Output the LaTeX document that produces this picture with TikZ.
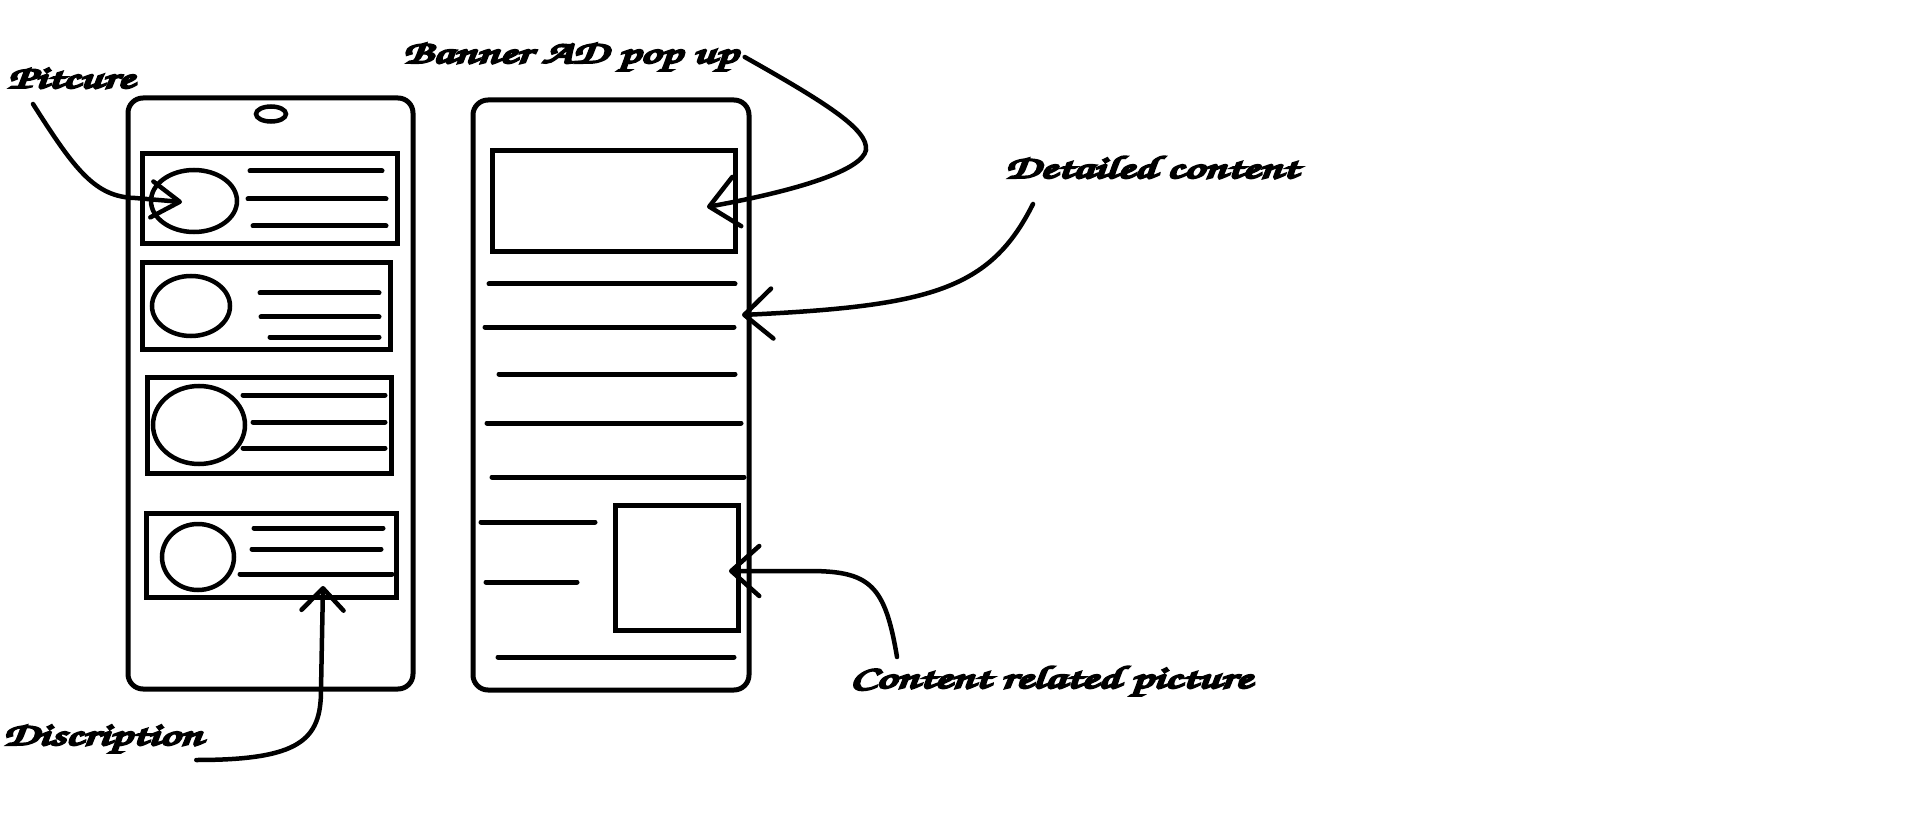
\documentclass[tikz,border=0pt]{standalone}
\usepackage[T1]{fontenc}
\usepackage{graphicx}
\usetikzlibrary{arrows.meta,shapes.geometric,positioning,calc}
\newcommand\handfont{\fontencoding{T1}\fontfamily{pzc}\fontseries{mb}\fontshape{it}\fontsize{32}{34}\selectfont}
\newcommand\inkbold[1]{\special{pdf:literal direct 2 Tr 2 w}#1\special{pdf:literal direct 0 Tr}}
\tikzset{%
  every phone/.style={
    draw,
    line width=5pt,
    rounded corners=15pt,
    inner sep=0pt
  },
  every card/.style={
    draw,
    line width=5pt,
    inner sep=0pt
  },
  every avatar/.style={
    draw,
    ellipse,
    line width=4.5pt,
    inner sep=0pt
  },
  text line/.style={line width=5pt, line cap=round},
  callout/.style={
    line width=4.5pt,
    line cap=round,
    -{Straight Barb[length=28pt,width=50pt,round]}
  },
  hand label/.style={font=\handfont, inner sep=0pt, anchor=base west},
}

\begin{document}
\begin{tikzpicture}[x=1pt, y=-1pt]
        \useasboundingbox (0,0) rectangle (1914,826);

        % the two phones
        \node [every phone, minimum width=285pt, minimum height=591pt] (phone-list) at (270.5,393.5) {};
        \node [every phone, minimum width=276pt, minimum height=590pt] (phone-detail) at (611,395) {};
        \node [every avatar, minimum width=30pt, minimum height=15pt] (camera) at (271,114) {};

        % list screen
        \foreach \n/\cx/\cy/\w/\h in {1/269.5/199/255/90, 2/266/306/248/86, 3/269/425/244/96, 4/271/555/250/84}
          \node [every card, minimum width=\w pt, minimum height=\h pt] (card-\n) at (\cx,\cy) {};
        \foreach \n/\cx/\cy/\w/\h in {1/194/201/86/62, 2/191/306/78/60, 3/199/425/92/78, 4/198/557/72/66}
          \node [every avatar, minimum width=\w pt, minimum height=\h pt] (pic-\n) at (\cx,\cy) {};
        \foreach \y/\xa/\xb in {171/250/382, 199/248/386, 226/253/386, 293/260/379, 317/261/379, 337/270/379,
                               395/243/385, 422/253/385, 448/243/385, 528/254/383, 549/252/381, 574/240/392}
          \draw [text line] (\xa,\y) -- (\xb,\y);

        % detail screen
        \node [every card, minimum width=243pt, minimum height=101pt] (ad-banner) at (613.5,201.5) {};
        \node [every card, minimum width=123pt, minimum height=125pt] (content-pic) at (676.5,567.5) {};
        \foreach \y/\xa/\xb in {284/489/735, 327/485/734, 374/499/735, 423/487/741, 477/492/744,
                               522/481/595, 582/486/577, 657/498/734}
          \draw [text line] (\xa,\y) -- (\xb,\y);

        % labels
        \node [hand label] (lbl-pitcure) at (8,88) {\inkbold{\scalebox{1.55}[1]{Pitcure}}};
        \node [hand label] (lbl-banner) at (403,63) {\inkbold{\scalebox{1.55}[1]{Banner AD pop up}}};
        \node [hand label] (lbl-discription) at (3,745) {\inkbold{\scalebox{1.55}[1]{Discription}}};
        \node [hand label] (lbl-detailed) at (1005,178) {\inkbold{\scalebox{1.55}[1]{Detailed content}}};
        \node [hand label] (lbl-related) at (850,688) {\inkbold{\scalebox{1.55}[1]{Content related picture}}};

        % where the callouts point
        \coordinate (tip-pitcure) at (182,202);
        \coordinate (tip-discription) at (323,586);
        \coordinate (tip-banner) at (707,207);
        \coordinate (tip-detailed) at (742,315);
        \coordinate (tip-related) at (729,571);

        \draw [callout, -{Straight Barb[length=28pt,width=36pt,round]}] (lbl-pitcure.base west) ++(25,16)
            .. controls (75,170) and (95,197) .. (135,198) -- (tip-pitcure);
        \draw [callout, -{Straight Barb[length=22pt,width=42pt,round]}] (lbl-discription.base east) ++(-6,15)
            .. controls (300,760) and (321,740) .. (321,690) -- (tip-discription);
        \draw [callout] (lbl-banner.base east) ++(7,-6)
            .. controls (830,105) and (868,130) .. (866,150)
            .. controls (862,170) and (800,190) .. (tip-banner);
        \draw [callout] (lbl-detailed.base west) ++(28,26)
            .. controls (990,290) and (930,306) .. (tip-detailed);
        \draw [callout] (lbl-related.base west) ++(47,-31)
            .. controls (885,585) and (870,571) .. (809,571) -- (tip-related);
\end{tikzpicture}
\end{document}
